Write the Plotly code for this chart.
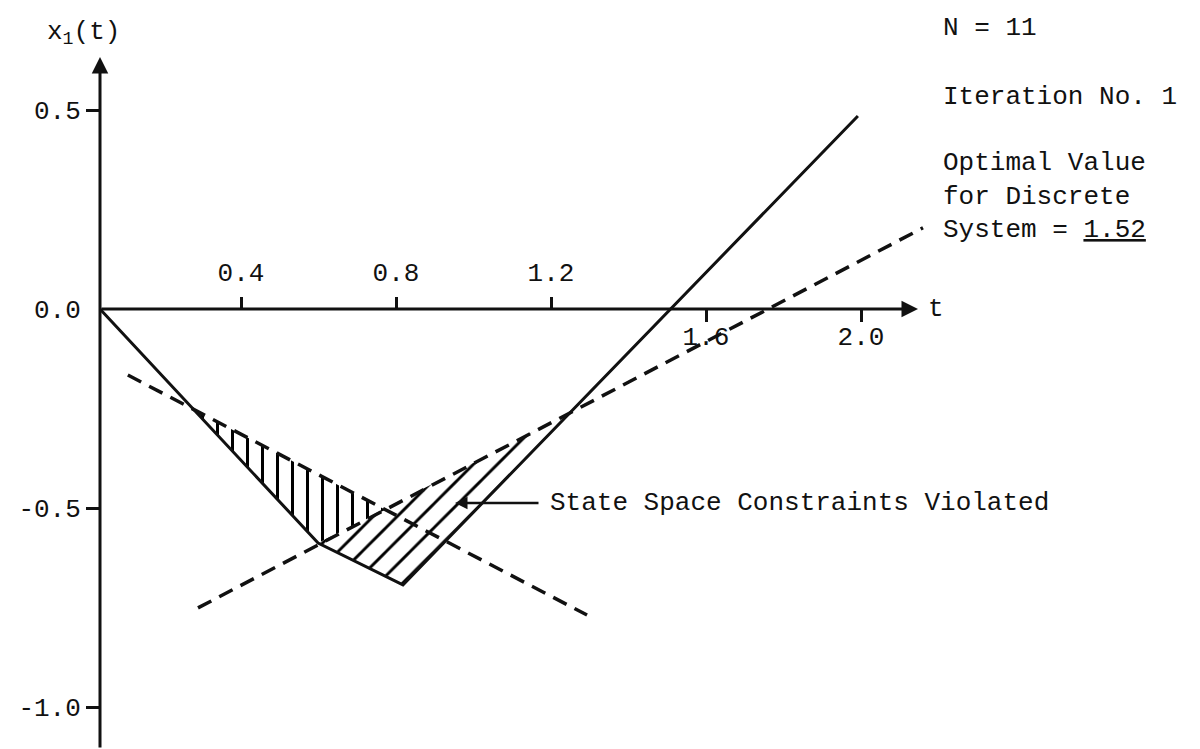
import plotly.graph_objects as go

# ---------------- data ----------------
# state trajectory x1(t) (solid)
t_solid = [0.036, 0.599, 0.818, 1.992]
x1_solid = [0.0, -0.588, -0.693, 0.485]

# falling state-space constraint (dashed)
t_c1 = [0.108, 1.293]
x1_c1 = [-0.166, -0.769]

# rising state-space constraint (dashed)
t_c2 = [0.289, 2.160]
x1_c2 = [-0.751, 0.204]

# tick labels
y_tick_vals = [0.5, -0.5, -1.0]
y_tick_text = ["0.5", "-0.5", "-1.0"]
y_zero_vals = [0.0]
y_zero_text = ["0.0"]
x_above_vals = [0.4, 0.8, 1.2]
x_above_text = ["0.4", "0.8", "1.2"]
x_below_vals = [1.6, 2.0]
x_below_text = ["1.6", "2.0"]

# texts
y_title = "x<sub>1</sub>(t)"
x_title = "t"
info_lines = ["N = 11", "Iteration No. 1", "Optimal Value", "for Discrete",
              "System = <u>1.52</u>"]
violation_label = "State Space Constraints Violated"

# ---------------- layout geometry ----------------
W, H = 1200, 749
PX0, PXU = 86.0, 387.5     # pixel of t=0, pixels per unit t
PY0, PYU = 309.0, 398.0    # pixel of x1=0, pixels per unit x1
x_range = [(0 - PX0) / PXU, (W - PX0) / PXU]
y_range = [(PY0 - H) / PYU, PY0 / PYU]
FONT = dict(family="Liberation Mono, Courier New, monospace", size=26, color="#111111")
INK = "#111111"


def intersect(p1, p2, q1, q2):
    (x1, y1), (x2, y2) = p1, p2
    (x3, y3), (x4, y4) = q1, q2
    d = (x1 - x2) * (y3 - y4) - (y1 - y2) * (x3 - x4)
    a = x1 * y2 - y1 * x2
    b = x3 * y4 - y3 * x4
    return ((a * (x3 - x4) - (x1 - x2) * b) / d, (a * (y3 - y4) - (y1 - y2) * b) / d)


S = list(zip(t_solid, x1_solid))
C1 = list(zip(t_c1, x1_c1))
C2 = list(zip(t_c2, x1_c2))
P1 = intersect(S[0], S[1], C1[0], C1[1])
P2 = intersect(C1[0], C1[1], C2[0], C2[1])
K = S[1]
B = S[2]
P3 = intersect(S[2], S[3], C2[0], C2[1])

fig = go.Figure()

# hatched region: below the falling constraint (vertical hatching)
regA = [P1, P2, K, P1]
fig.add_trace(go.Scatter(
    x=[p[0] for p in regA], y=[p[1] for p in regA], mode="lines",
    fill="toself", line=dict(width=0), fillcolor="rgba(0,0,0,0)",
    fillpattern=dict(shape="|", size=15, solidity=0.2, fgcolor="#000000",
                     fgopacity=1, bgcolor="rgba(0,0,0,0)"),
    showlegend=False, hoverinfo="skip"))
# hatched region: below the rising constraint (diagonal hatching)
regB = [K, B, P3, K]
fig.add_trace(go.Scatter(
    x=[p[0] for p in regB], y=[p[1] for p in regB], mode="lines",
    fill="toself", line=dict(width=0), fillcolor="rgba(0,0,0,0)",
    fillpattern=dict(shape="/", size=17, solidity=0.17, fgcolor="#000000",
                     fgopacity=1, bgcolor="rgba(0,0,0,0)"),
    showlegend=False, hoverinfo="skip"))

# constraints (dashed)
for tt, yy in ((t_c1, x1_c1), (t_c2, x1_c2)):
    fig.add_trace(go.Scatter(x=tt, y=yy, mode="lines",
                             line=dict(color=INK, width=3.5, dash="15px,9px"),
                             showlegend=False, hoverinfo="skip"))
# trajectory (solid)
fig.add_trace(go.Scatter(x=t_solid, y=x1_solid, mode="lines",
                         line=dict(color=INK, width=3),
                         showlegend=False, hoverinfo="skip"))
# dummy traces so that the overlay axes exist
fig.add_trace(go.Scatter(x=[], y=[], xaxis="x2", yaxis="y", showlegend=False))
fig.add_trace(go.Scatter(x=[], y=[], xaxis="x", yaxis="y2", showlegend=False))

x_pos = 1 - PY0 / H

common_x = dict(range=x_range, showgrid=False, zeroline=False, showline=False,
                anchor="free", position=x_pos, ticks="outside", ticklen=12,
                tickwidth=2.5, tickcolor=INK, tickfont=FONT, fixedrange=True)
common_y = dict(range=y_range, showgrid=False, zeroline=False, showline=False,
                anchor="free", position=100 / W, ticks="outside", ticklen=14,
                tickwidth=2.5, tickfont=FONT, fixedrange=True)

fig.update_layout(
    width=W, height=H, margin=dict(l=0, r=0, t=0, b=0),
    paper_bgcolor="white", plot_bgcolor="white",
    font=FONT,
    xaxis=dict(domain=[0, 1], side="bottom", tickmode="array",
               tickvals=x_below_vals, ticktext=x_below_text,
               ticklabelstandoff=-8, **common_x),
    xaxis2=dict(domain=[0, 1], side="top", overlaying="x", tickmode="array",
                tickvals=x_above_vals, ticktext=x_above_text,
                ticklabelstandoff=6, **common_x),
    yaxis=dict(domain=[0, 1], side="left", tickmode="array",
               tickvals=y_tick_vals, ticktext=y_tick_text, tickcolor=INK, **common_y),
    yaxis2=dict(domain=[0, 1], side="left", overlaying="y", tickmode="array",
                tickvals=y_zero_vals, ticktext=y_zero_text,
                tickcolor="rgba(0,0,0,0)", **common_y),
)

ann = []
# x axis arrow
ann.append(dict(x=(918 - PX0) / PXU, y=0, xref="x", yref="y", ax=-818, ay=0,
                text="", showarrow=True, arrowhead=2, arrowsize=1.1,
                arrowwidth=3, arrowcolor=INK))
# y axis arrow
ann.append(dict(x=100 / W, y=1 - 57 / H, xref="paper", yref="paper", ax=0, ay=H - 57 + 5,
                text="", showarrow=True, arrowhead=2, arrowsize=1.1,
                arrowwidth=3, arrowcolor=INK))
# axis titles
ann.append(dict(x=83 / W, y=1 - 33 / H, xref="paper", yref="paper", text=y_title,
                showarrow=False, xanchor="center", yanchor="middle", font=FONT))
ann.append(dict(x=926 / W, y=1 - PY0 / H, xref="paper", yref="paper", text=x_title,
                showarrow=False, xanchor="left", yanchor="middle", font=FONT))
# information block
info_y = [28, 97, 163, 197, 230]
for txt, py in zip(info_lines, info_y):
    ann.append(dict(x=941 / W, y=1 - py / H, xref="paper", yref="paper", text=txt,
                    showarrow=False, xanchor="left", yanchor="middle", font=FONT))
# violation label with pointer
ann.append(dict(x=548 / W, y=1 - 503 / H, xref="paper", yref="paper",
                text=violation_label, showarrow=False, xanchor="left",
                yanchor="middle", font=FONT))
ann.append(dict(x=455 / W, y=1 - 503 / H, xref="paper", yref="paper", ax=85, ay=0,
                text="", showarrow=True, arrowhead=2, arrowsize=1.0,
                arrowwidth=2.5, arrowcolor=INK))
fig.update_layout(annotations=ann)

fig.write_html("out.html", config={"displayModeBar": False},
               post_script="document.body.style.margin='0px';")
